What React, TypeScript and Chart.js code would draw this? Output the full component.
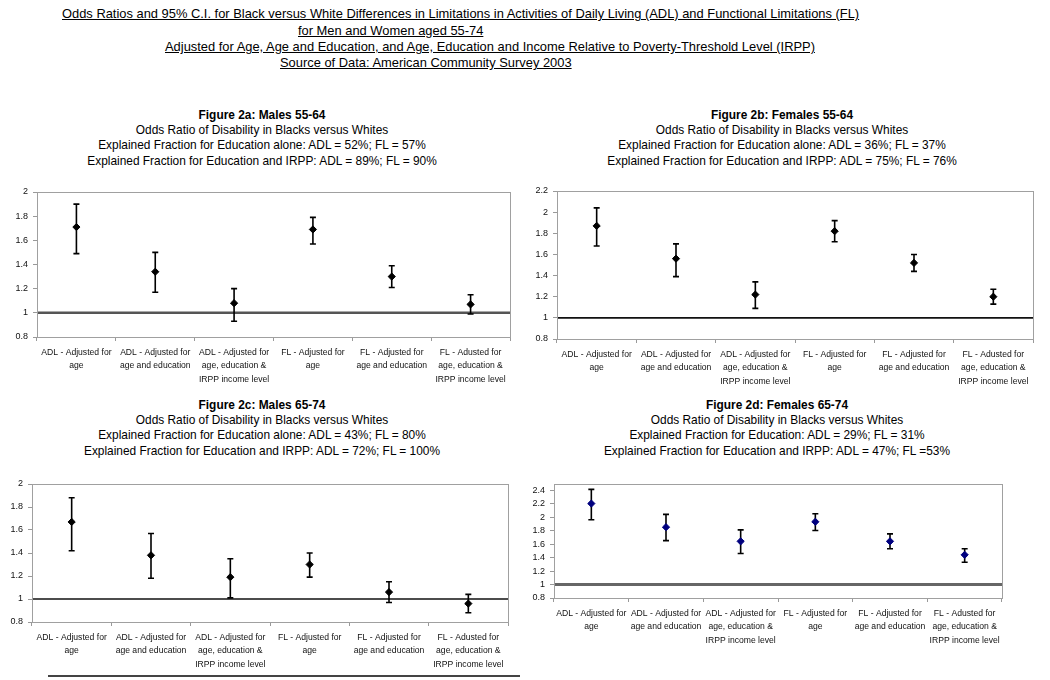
import React, { useEffect, useRef } from "react";
import { Chart, registerables } from "chart.js";

Chart.register(...registerables);

const FONT = "'Liberation Sans', Arial, Helvetica, sans-serif";

// ---------- data ----------
const categories: string[][] = [
  ["ADL - Adjusted for", "age"],
  ["ADL - Adjusted for", "age and education"],
  ["ADL - Adjusted for", "age, education &", "IRPP income level"],
  ["FL - Adjusted for", "age"],
  ["FL - Adjusted for", "age and education"],
  ["FL - Adusted for", "age, education &", "IRPP income level"],
];

// Figure 2a: Males 55-64
const oddsA = [1.71, 1.34, 1.08, 1.69, 1.3, 1.07];
const lowerA = [1.49, 1.17, 0.93, 1.57, 1.21, 0.99];
const upperA = [1.9, 1.5, 1.2, 1.79, 1.39, 1.15];
const yTicksA = [0.8, 1, 1.2, 1.4, 1.6, 1.8, 2];

// Figure 2b: Females 55-64
const oddsB = [1.87, 1.56, 1.22, 1.82, 1.52, 1.2];
const lowerB = [1.68, 1.39, 1.09, 1.72, 1.44, 1.13];
const upperB = [2.04, 1.7, 1.34, 1.92, 1.6, 1.27];
const yTicksB = [0.8, 1, 1.2, 1.4, 1.6, 1.8, 2, 2.2];

// Figure 2c: Males 65-74
const oddsC = [1.67, 1.38, 1.19, 1.3, 1.06, 0.96];
const lowerC = [1.42, 1.18, 1.01, 1.19, 0.97, 0.88];
const upperC = [1.88, 1.57, 1.35, 1.4, 1.15, 1.04];
const yTicksC = [0.8, 1, 1.2, 1.4, 1.6, 1.8, 2];

// Figure 2d: Females 65-74
const oddsD = [2.2, 1.85, 1.64, 1.93, 1.64, 1.44];
const lowerD = [1.96, 1.65, 1.46, 1.8, 1.53, 1.33];
const upperD = [2.41, 2.04, 1.81, 2.05, 1.75, 1.53];
const yTicksD = [0.8, 1, 1.2, 1.4, 1.6, 1.8, 2, 2.2, 2.4];

const mainTitle = [
  "Odds Ratios and 95% C.I. for Black versus White Differences in Limitations in Activities of Daily Living (ADL) and Functional Limitations (FL)",
  "for Men and Women aged 55-74",
  "Adjusted for Age, Age and Education, and Age, Education and Income Relative to Poverty-Threshold Level (IRPP)",
  "Source of Data: American Community Survey 2003",
];

const titlesA = [
  "Figure 2a: Males 55-64",
  "Odds Ratio of Disability in Blacks versus Whites",
  "Explained Fraction for Education alone: ADL = 52%; FL = 57%",
  "Explained Fraction for Education and IRPP: ADL = 89%; FL = 90%",
];
const titlesB = [
  "Figure 2b: Females 55-64",
  "Odds Ratio of Disability in Blacks versus Whites",
  "Explained Fraction for Education alone: ADL = 36%; FL = 37%",
  "Explained Fraction for Education and IRPP: ADL = 75%; FL = 76%",
];
const titlesC = [
  "Figure 2c: Males 65-74",
  "Odds Ratio of Disability in Blacks versus Whites",
  "Explained Fraction for Education alone: ADL = 43%; FL = 80%",
  "Explained Fraction for Education and IRPP: ADL = 72%; FL = 100%",
];
const titlesD = [
  "Figure 2d: Females 65-74",
  "Odds Ratio of Disability in Blacks versus Whites",
  "Explained Fraction for Education: ADL = 29%; FL = 31%",
  "Explained Fraction for Education and IRPP: ADL = 47%; FL =53%",
];

type PanelProps = {
  left: number;
  top: number;
  width: number;
  height: number;
  odds: number[];
  lower: number[];
  upper: number[];
  yTicks: number[];
  yMax: number;
  yWidth: number;
  xHeight: number;
  padTop: number;
  padRight: number;
  color: string;
  refColor: string;
  refWidth: number;
};

function Panel(p: PanelProps) {
  const ref = useRef<HTMLCanvasElement | null>(null);
  useEffect(() => {
    if (!ref.current) return;
    const plugin = {
      id: "errBars",
      beforeDatasetsDraw(chart: any) {
        const { ctx, chartArea, scales } = chart;
        const x = scales.x;
        const y = scales.y;
        ctx.save();
        // reference line at odds ratio = 1
        const yr = y.getPixelForValue(1);
        ctx.strokeStyle = p.refColor;
        ctx.lineWidth = p.refWidth;
        ctx.beginPath();
        ctx.moveTo(chartArea.left, yr);
        ctx.lineTo(chartArea.right, yr);
        ctx.stroke();
        // error bars
        ctx.strokeStyle = "#000";
        ctx.lineWidth = 1.6;
        p.lower.forEach((lo, i) => {
          const px = x.getPixelForValue(i);
          const y1 = y.getPixelForValue(lo);
          const y2 = y.getPixelForValue(p.upper[i]);
          ctx.beginPath();
          ctx.moveTo(px, y1);
          ctx.lineTo(px, y2);
          ctx.moveTo(px - 3, y1);
          ctx.lineTo(px + 3, y1);
          ctx.moveTo(px - 3, y2);
          ctx.lineTo(px + 3, y2);
          ctx.stroke();
        });
        ctx.restore();
      },
      afterDraw(chart: any) {
        const { ctx, chartArea } = chart;
        ctx.save();
        ctx.strokeStyle = "#a0a0a0";
        ctx.lineWidth = 1;
        ctx.strokeRect(
          Math.round(chartArea.left) + 0.5,
          Math.round(chartArea.top) + 0.5,
          Math.round(chartArea.right - chartArea.left),
          Math.round(chartArea.bottom - chartArea.top)
        );
        ctx.restore();
      },
    };
    const chart = new Chart(ref.current, {
      type: "line",
      data: {
        labels: categories,
        datasets: [
          {
            data: p.odds,
            showLine: false,
            pointStyle: "rectRot",
            pointRadius: 3.6,
            pointBackgroundColor: p.color,
            pointBorderColor: p.color,
            pointBorderWidth: 1,
          },
        ],
      },
      options: {
        animation: false,
        responsive: false,
        layout: { padding: { top: p.padTop, right: p.padRight, left: 0, bottom: 0 } },
        plugins: {
          legend: { display: false },
          tooltip: { enabled: false },
          title: { display: false },
        },
        scales: {
          x: {
            type: "category",
            offset: true,
            grid: {
              offset: true,
              drawOnChartArea: false,
              drawTicks: true,
              tickLength: 4,
              color: "#999",
            },
            border: { color: "#999" },
            ticks: {
              autoSkip: false,
              maxRotation: 0,
              minRotation: 0,
              padding: 5,
              color: "#111",
              font: { family: FONT, size: 8.6, lineHeight: 1.55 },
            },
            afterFit: (s: any) => {
              s.height = p.xHeight;
            },
          },
          y: {
            type: "linear",
            min: p.yTicks[0],
            max: p.yMax,
            grid: {
              drawOnChartArea: false,
              drawTicks: true,
              tickLength: 4,
              color: "#999",
            },
            border: { color: "#999" },
            afterBuildTicks: (s: any) => {
              s.ticks = p.yTicks.map((v) => ({ value: v }));
            },
            ticks: {
              padding: 5,
              color: "#111",
              font: { family: FONT, size: 9 },
              callback: (v: any) => String(Math.round(Number(v) * 10) / 10),
            },
            afterFit: (s: any) => {
              s.width = p.yWidth;
            },
          },
        },
      },
      plugins: [plugin],
    } as any);
    return () => chart.destroy();
  }, []);
  return (
    <div style={{ position: "absolute", left: p.left, top: p.top, width: p.width, height: p.height }}>
      <canvas ref={ref} width={p.width} height={p.height} style={{ width: p.width, height: p.height, display: "block" }} />
    </div>
  );
}

function TitleBlock({ lines, cx, top }: { lines: string[]; cx: number; top: number }) {
  const w = 460;
  return (
    <div
      style={{
        position: "absolute",
        left: cx - w / 2,
        top,
        width: w,
        textAlign: "center",
        fontFamily: FONT,
        fontSize: 11.9,
        lineHeight: "15.2px",
        color: "#000",
        whiteSpace: "nowrap",
      }}
    >
      {lines.map((l, i) => (
        <div key={i} style={{ fontWeight: i === 0 ? "bold" : "normal" }}>
          {l}
        </div>
      ))}
    </div>
  );
}

export default function App() {
  const titleLeft = [62, 298, 165, 280];
  const titleTop = [14, 31, 47, 63];
  return (
    <div style={{ position: "absolute", left: 0, top: 0, width: 1050, height: 680, background: "#fff", overflow: "hidden" }}>
      {mainTitle.map((t, i) => (
        <div
          key={i}
          style={{
            position: "absolute",
            left: titleLeft[i],
            top: titleTop[i] - 8,
            fontFamily: FONT,
            fontSize: 12.9,
            lineHeight: "16px",
            textDecoration: "underline",
            whiteSpace: "nowrap",
            color: "#000",
          }}
        >
          {t}
        </div>
      ))}
      <TitleBlock lines={titlesA} cx={262} top={108} />
      <TitleBlock lines={titlesB} cx={782} top={108} />
      <TitleBlock lines={titlesC} cx={262} top={398} />
      <TitleBlock lines={titlesD} cx={777} top={398} />

      <Panel left={0} top={180} width={520} height={210} odds={oddsA} lower={lowerA} upper={upperA}
        yTicks={yTicksA} yMax={2} yWidth={37} xHeight={53} padTop={12} padRight={10}
        color="#000" refColor="#555" refWidth={2.5} />
      <Panel left={525} top={180} width={525} height={210} odds={oddsB} lower={lowerB} upper={upperB}
        yTicks={yTicksB} yMax={2.2} yWidth={32} xHeight={51} padTop={11} padRight={17}
        color="#000" refColor="#111" refWidth={1.6} />
      <Panel left={0} top={470} width={520} height={210} odds={oddsC} lower={lowerC} upper={upperC}
        yTicks={yTicksC} yMax={2} yWidth={32} xHeight={58} padTop={14} padRight={12}
        color="#000" refColor="#111" refWidth={1.6} />
      <Panel left={525} top={470} width={525} height={210} odds={oddsD} lower={lowerD} upper={upperD}
        yTicks={yTicksD} yMax={2.49} yWidth={29} xHeight={82} padTop={14} padRight={48}
        color="#00007f" refColor="#666" refWidth={3} />

      <div style={{ position: "absolute", left: 48, top: 675, width: 472, height: 2, background: "#444" }} />
    </div>
  );
}
